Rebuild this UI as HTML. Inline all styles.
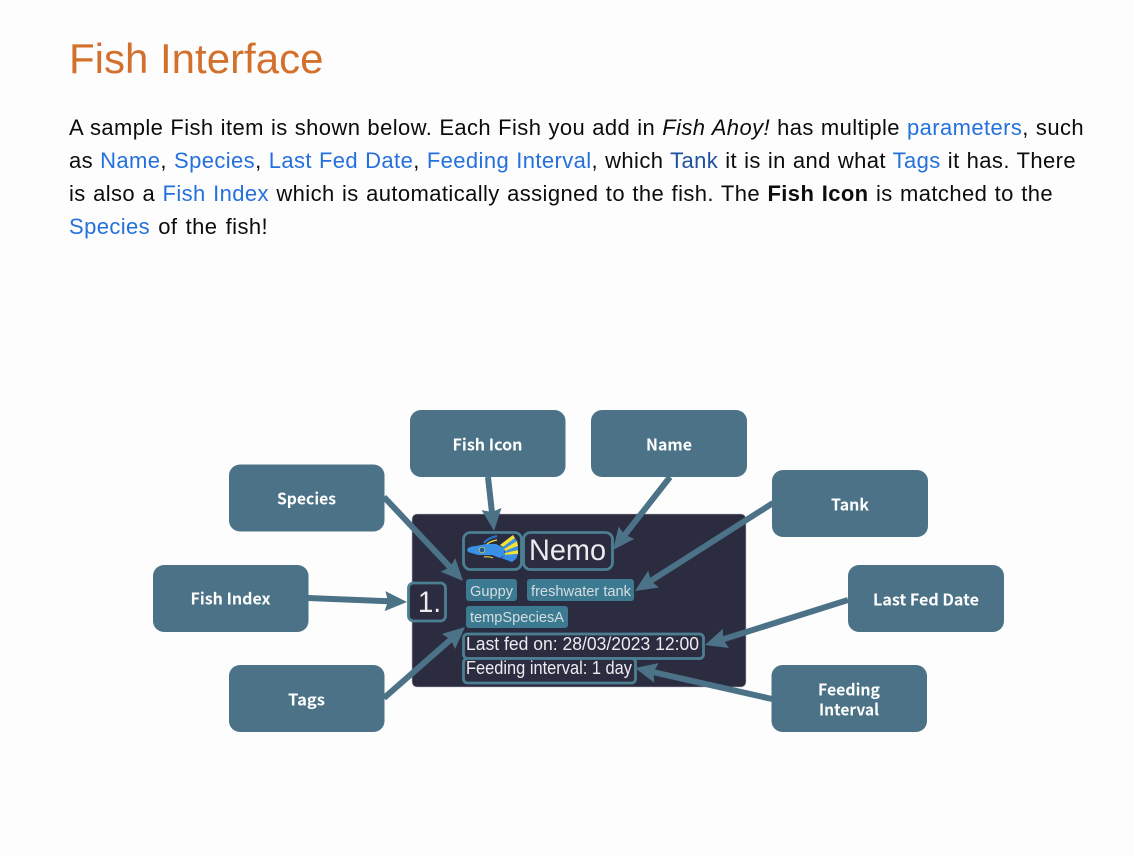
<!DOCTYPE html>
<html><head><meta charset="utf-8"><style>
html,body{margin:0;padding:0;background:#fdfdfd;width:1134px;height:856px;overflow:hidden}
body{position:relative;font-family:"Liberation Sans",sans-serif;color:#0c0c0c}
h1{position:absolute;left:69px;top:35px;margin:0;font-weight:400;font-size:42px;line-height:48px;color:#d2702c;white-space:nowrap}
.l{position:absolute;left:69px;height:33px;line-height:33px;font-size:22px;letter-spacing:.4px;white-space:nowrap;text-align:justify;text-align-last:justify}
a{color:#2470dc;text-decoration:none}
a.v{color:#1e50a0}
svg{position:absolute;left:0;top:0}
</style></head><body>
<h1>Fish Interface</h1>
<div class="l" style="top:111px;width:1015px">A sample Fish item is shown below. Each Fish you add in <i>Fish Ahoy!</i> has multiple <a>parameters</a>, such</div>
<div class="l" style="top:144px;width:1007px">as <a>Name</a>, <a>Species</a>, <a>Last Fed Date</a>, <a>Feeding Interval</a>, which <a class="v">Tank</a> it is in and what <a>Tags</a> it has. There</div>
<div class="l" style="top:177px;width:984px">is also a <a>Fish Index</a> which is automatically assigned to the fish. The <b>Fish Icon</b> is matched to the</div>
<div class="l" style="top:210px;width:199px"><a>Species</a> of the fish!</div>
<svg width="1134" height="856" viewBox="0 0 1134 856">
<defs><marker id="m" markerUnits="userSpaceOnUse" markerWidth="22" markerHeight="20" refX="10" refY="10" orient="auto"><path d="M0 0L22 10L0 20L3 10z" fill="#4b7286"/></marker></defs>
<rect x="412" y="514" width="334" height="173" rx="5" fill="#2c2c40" stroke="#b9bcc4" stroke-width=".6"/>
<g fill="#2c2c40" stroke="#4b7f92" stroke-width="2.8">
<rect x="463.500" y="532.500" width="58" height="37" rx="7"/>
<rect x="523.500" y="532.500" width="89" height="37" rx="7"/>
<rect x="408.500" y="583" width="37" height="38" rx="5"/>
<rect x="463.500" y="634" width="240" height="24.500" rx="4"/>
<rect x="463.500" y="658.500" width="172" height="24.500" rx="4"/>
</g>
<g fill="#3b7a90">
<rect x="466" y="579" width="51" height="22" rx="3"/>
<rect x="527" y="579" width="107" height="22" rx="3"/>
<rect x="466" y="606" width="102" height="22" rx="3"/>
</g>
<g>
<path d="M500 545L509 538L513 535L515 538L503 547z" fill="#f2e33a"/>
<path d="M503 547L515 538L517 541L504 549z" fill="#3a8fe6"/>
<path d="M504 549L517 541L518 546L505 551z" fill="#f2e33a"/>
<path d="M505 551L518 546L518 550L505 553z" fill="#3a8fe6"/>
<path d="M505 553L518 550L518 554L504 555z" fill="#f2e33a"/>
<path d="M504 555L518 554L516 559L503 557z" fill="#3a8fe6"/>
<path d="M503 557L516 559L512 562L501 558z" fill="#3a8fe6"/>
<path d="M467 549Q470 546 476 546L486 544L496 544L504 548L505 555L500 558L492 555L478 555L468 552z" fill="#3a8fe6"/>
<circle cx="482" cy="550" r="2.800" fill="#235a8a" stroke="#d7d34a" stroke-width=".7"/>
<path d="M484 543Q488 538 497 536" fill="none" stroke="#2a70c0" stroke-width="2.400"/>
<path d="M487 544Q491 541 497 540" fill="none" stroke="#f2e33a" stroke-width="1.200"/>
<path d="M484 557Q489 556 493 558" fill="none" stroke="#d7d34a" stroke-width="1.200"/>
</g>
<g fill="#ececf0" font-family="Liberation Sans,sans-serif">
<text x="529" y="560" font-size="30" textLength="77" lengthAdjust="spacingAndGlyphs">Nemo</text>
<text x="418" y="612" font-size="30" textLength="23" lengthAdjust="spacingAndGlyphs">1.</text>
<text x="466" y="650" font-size="18" textLength="233" lengthAdjust="spacingAndGlyphs">Last fed on: 28/03/2023 12:00</text>
<text x="466" y="674" font-size="18" textLength="166" lengthAdjust="spacingAndGlyphs">Feeding interval: 1 day</text>
</g>
<g fill="#d6dde2" font-family="Liberation Sans,sans-serif" font-size="15">
<text x="470" y="596" textLength="43" lengthAdjust="spacingAndGlyphs">Guppy</text>
<text x="531" y="596" textLength="100" lengthAdjust="spacingAndGlyphs">freshwater tank</text>
<text x="470" y="622" textLength="94" lengthAdjust="spacingAndGlyphs">tempSpeciesA</text>
</g>
<g stroke="#4b7286" stroke-width="6" fill="none">
<line x1="384" y1="497" x2="454.800" y2="572.200" marker-end="url(#m)"/>
<line x1="488" y1="477" x2="492.700" y2="519" marker-end="url(#m)"/>
<line x1="670" y1="477" x2="620.400" y2="540.500" marker-end="url(#m)"/>
<line x1="773" y1="503" x2="645.100" y2="584.500" marker-end="url(#m)"/>
<line x1="848" y1="600" x2="716.400" y2="641.400" marker-end="url(#m)"/>
<line x1="772" y1="699" x2="646.700" y2="670.700" marker-end="url(#m)"/>
<line x1="384" y1="698" x2="456" y2="634.900" marker-end="url(#m)"/>
<line x1="308" y1="598" x2="395" y2="601.500" marker-end="url(#m)"/>
</g>
<g fill="#4b7286">
<rect x="410" y="410" width="155.500" height="67" rx="11"/>
<rect x="591" y="410" width="156" height="67" rx="11"/>
<rect x="229" y="464.500" width="155.500" height="67" rx="11"/>
<rect x="153" y="565" width="155.500" height="67" rx="11"/>
<rect x="229" y="665" width="155.500" height="67" rx="11"/>
<rect x="772" y="470" width="156" height="67" rx="11"/>
<rect x="848" y="565" width="156" height="67" rx="11"/>
<rect x="771.500" y="665" width="155.500" height="67" rx="11"/>
</g>
<g fill="#fff" font-family="Noto Sans CJK JP,Liberation Sans,sans-serif" font-weight="700" font-size="16" text-anchor="middle">
<text x="487.500" y="450.500" textLength="70" lengthAdjust="spacingAndGlyphs">Fish Icon</text>
<text x="669" y="450.500" textLength="46" lengthAdjust="spacingAndGlyphs">Name</text>
<text x="306.500" y="504.500" textLength="59" lengthAdjust="spacingAndGlyphs">Species</text>
<text x="230.500" y="604.500" textLength="80" lengthAdjust="spacingAndGlyphs">Fish Index</text>
<text x="306.500" y="705.500" textLength="37" lengthAdjust="spacingAndGlyphs">Tags</text>
<text x="850" y="510.500" textLength="38" lengthAdjust="spacingAndGlyphs">Tank</text>
<text x="926" y="605.500" textLength="106" lengthAdjust="spacingAndGlyphs">Last Fed Date</text>
<text x="849" y="695.500" textLength="62" lengthAdjust="spacingAndGlyphs">Feeding</text>
<text x="849" y="715.500" textLength="60" lengthAdjust="spacingAndGlyphs">Interval</text>
</g>
</svg>
</body></html>
